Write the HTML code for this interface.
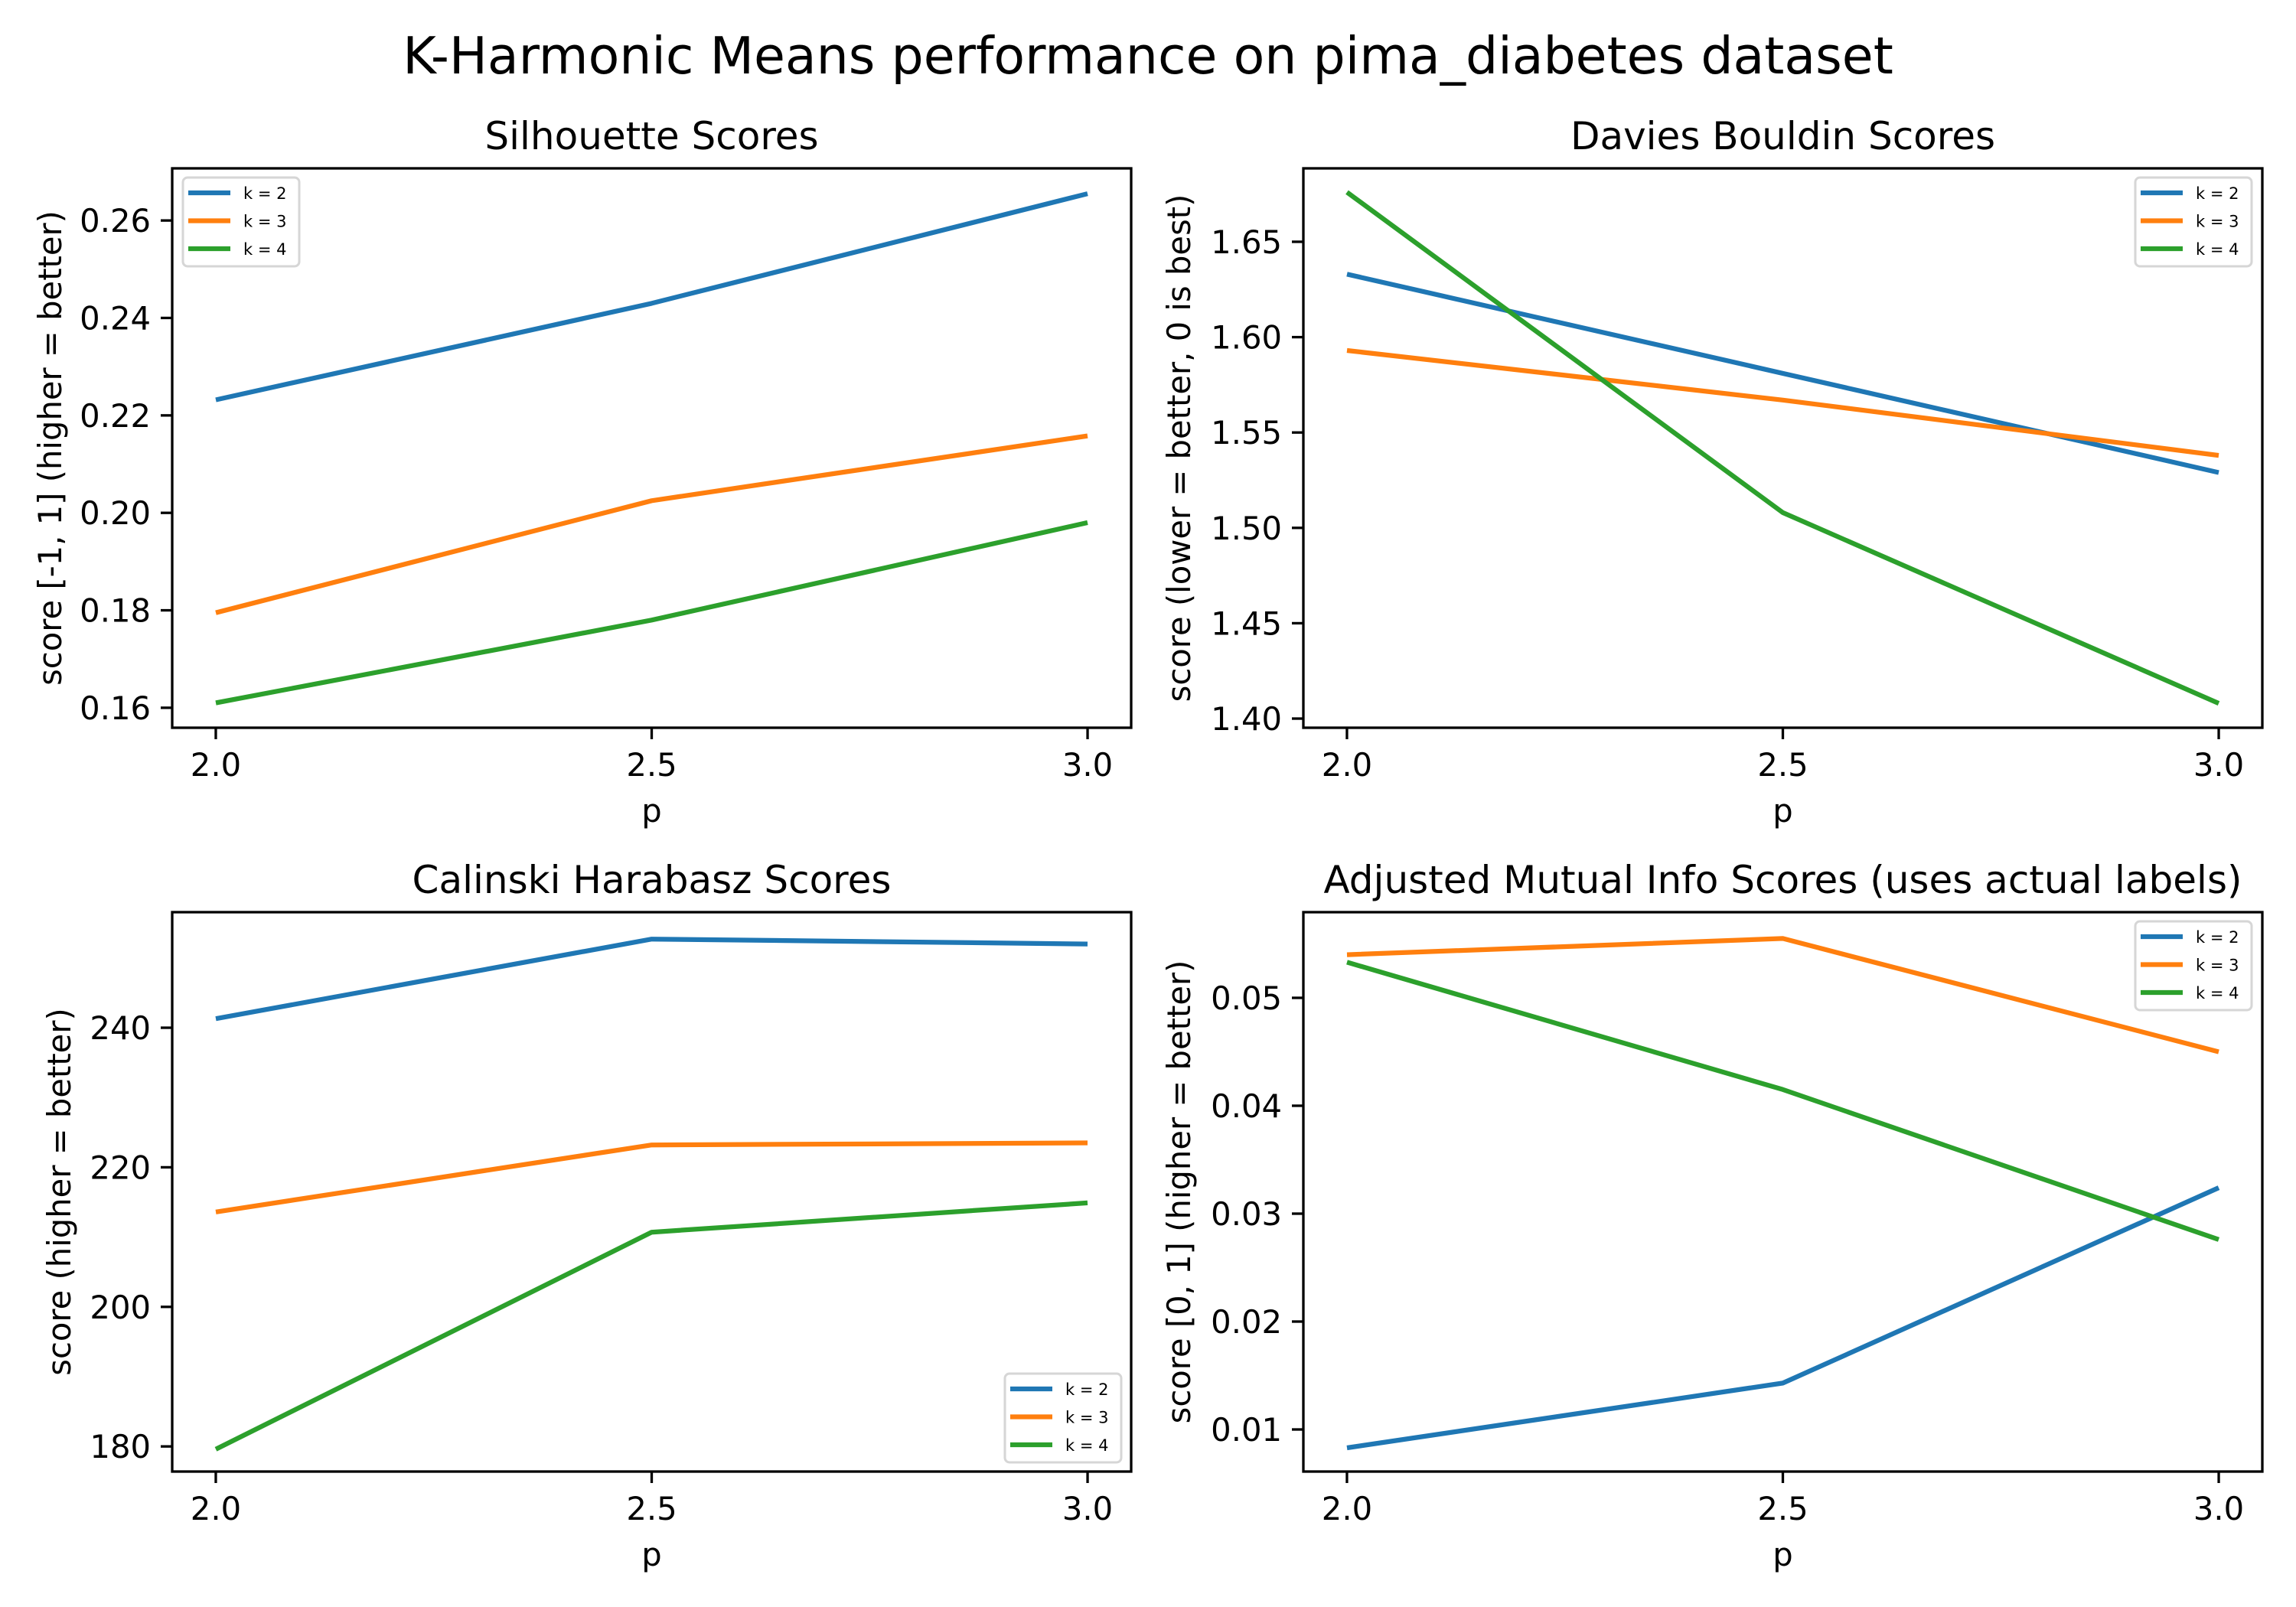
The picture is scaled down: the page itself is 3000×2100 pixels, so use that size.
<!DOCTYPE html>
<html><head><meta charset="utf-8"><style>
html,body{margin:0;padding:0;background:#fff;}
svg{display:block;font-family:"DejaVu Sans","Liberation Sans",sans-serif;}
</style></head><body>
<svg id="fig" width="3000" height="2100" viewBox="0 0 3000 2100" xmlns="http://www.w3.org/2000/svg">
<rect x="0" y="0" width="3000" height="2100" fill="#fff"/>
<text x="1500" y="96" font-size="66.5" text-anchor="middle" fill="#000">K-Harmonic Means performance on pima_diabetes dataset</text>
</svg>
<script>
const pValues = [2.0, 2.5, 3.0];
const xTicks = [2.0, 2.5, 3.0];
const xTickLabels = ["2.0", "2.5", "3.0"];
const seriesNames = ["k = 2", "k = 3", "k = 4"];
const colors = ["#1f77b4", "#ff7f0e", "#2ca02c"];

const silK2 = [0.2232, 0.2430, 0.2655];
const silK3 = [0.1795, 0.2025, 0.2158];
const silK4 = [0.1610, 0.1780, 0.1980];
const silTicks = [0.16, 0.18, 0.20, 0.22, 0.24, 0.26];
const silTickLabels = ["0.16", "0.18", "0.20", "0.22", "0.24", "0.26"];
const silRange = [0.1559, 0.2707];

const dbK2 = [1.633, 1.581, 1.529];
const dbK3 = [1.593, 1.567, 1.538];
const dbK4 = [1.676, 1.508, 1.408];
const dbTicks = [1.40, 1.45, 1.50, 1.55, 1.60, 1.65];
const dbTickLabels = ["1.40", "1.45", "1.50", "1.55", "1.60", "1.65"];
const dbRange = [1.3952, 1.6885];

const chK2 = [241.3, 252.7, 252.0];
const chK3 = [213.6, 223.2, 223.5];
const chK4 = [179.6, 210.7, 214.9];
const chTicks = [180, 200, 220, 240];
const chTickLabels = ["180", "200", "220", "240"];
const chRange = [176.4, 256.56];

const amiK2 = [0.0083, 0.0143, 0.0324];
const amiK3 = [0.0540, 0.0555, 0.0450];
const amiK4 = [0.0533, 0.0415, 0.0276];
const amiTicks = [0.01, 0.02, 0.03, 0.04, 0.05];
const amiTickLabels = ["0.01", "0.02", "0.03", "0.04", "0.05"];
const amiRange = [0.0061, 0.05794];

const NS = "http://www.w3.org/2000/svg";
const fig = document.getElementById('fig');
function mk(tag, attrs, parent, text) {
  const e = document.createElementNS(NS, tag);
  for (const k in attrs) e.setAttribute(k, attrs[k]);
  if (text !== undefined) e.textContent = text;
  (parent || fig).appendChild(e);
  return e;
}

function panel(cfg) {
  const L = cfg.left, T = cfg.top, W = 1253, H = 731;
  const g = mk('g', {});
  
  
  const xs = v => L + W * (v - 1.95) / 1.1;
  const ys = v => T + H - H * (v - cfg.range[0]) / (cfg.range[1] - cfg.range[0]);
  const title = mk('text', {x: L + W / 2, y: T - 25, 'font-size': 50, 'text-anchor': 'middle', fill: '#000'}, g, cfg.title);
  
  
  cfg.series.forEach((vals, i) => {
    const pts = vals.map((v, j) => xs(pValues[j]).toFixed(1) + ',' + ys(v).toFixed(1)).join(' ');
    const pl = mk('polyline', {points: pts, fill: 'none', stroke: colors[i], 'stroke-width': 6.25, 'stroke-linejoin': 'round'}, g);
    
    
  });
  const fr = mk('rect', {x: L, y: T, width: W, height: H, fill: 'none', stroke: '#000', 'stroke-width': 3.3}, g);
  
  
  xTicks.forEach((v, i) => {
    const x = xs(v);
    mk('line', {x1: x, x2: x, y1: T + H, y2: T + H + 15, stroke: '#000', 'stroke-width': 3.3}, g);
    const t = mk('text', {x: x, y: T + H + 63, 'font-size': 41.7, 'text-anchor': 'middle', fill: '#000'}, g, xTickLabels[i]);
    
    
  });
  const xl = mk('text', {x: L + W / 2, y: T + H + 123, 'font-size': 41.7, 'text-anchor': 'middle', fill: '#000'}, g, 'p');
  
  
  cfg.ticks.forEach((v, i) => {
    const y = ys(v);
    mk('line', {x1: L - 15, x2: L, y1: y, y2: y, stroke: '#000', 'stroke-width': 3.3}, g);
    const t = mk('text', {x: L - 28, y: y + 15, 'font-size': 41.7, 'text-anchor': 'end', fill: '#000'}, g, cfg.tickLabels[i]);
    
    
  });
  const yl = mk('text', {x: 0, y: 0, 'font-size': 41.7, 'text-anchor': 'middle', fill: '#000',
    transform: 'translate(' + (cfg.ylabelX) + ',' + (T + H / 2) + ') rotate(-90)'}, g, cfg.ylabel);
  
  
  const lx = cfg.legend[0], ly = cfg.legend[1];
  const lg = mk('g', {}, g);
  
  
  mk('rect', {x: lx, y: ly, width: 152, height: 116, rx: 6, fill: '#fff', 'fill-opacity': 0.8, stroke: '#d6d6d6', 'stroke-width': 3}, lg);
  seriesNames.forEach((n, i) => {
    const yy = ly + 20 + i * 36.5;
    const e = mk('g', {}, lg);
    
    
    mk('line', {x1: lx + 7, x2: lx + 62, y1: yy, y2: yy, stroke: colors[i], 'stroke-width': 6.25}, e);
    mk('text', {x: lx + 79, y: yy + 8, 'font-size': 21, fill: '#000'}, e, n);
  });
}

panel({name: 'silhouette-panel', left: 225, top: 220, title: 'Silhouette Scores', series: [silK2, silK3, silK4],
  ticks: silTicks, tickLabels: silTickLabels, range: silRange, ylabel: 'score [-1, 1] (higher = better)', ylabelX: 80, legend: [239, 232]});
panel({name: 'davies-bouldin-panel', left: 1703, top: 220, title: 'Davies Bouldin Scores', series: [dbK2, dbK3, dbK4],
  ticks: dbTicks, tickLabels: dbTickLabels, range: dbRange, ylabel: 'score (lower = better, 0 is best)', ylabelX: 1555, legend: [2790, 232]});
panel({name: 'calinski-harabasz-panel', left: 225, top: 1192, title: 'Calinski Harabasz Scores', series: [chK2, chK3, chK4],
  ticks: chTicks, tickLabels: chTickLabels, range: chRange, ylabel: 'score (higher = better)', ylabelX: 92, legend: [1313, 1795]});
panel({name: 'adjusted-mutual-info-panel', left: 1703, top: 1192, title: 'Adjusted Mutual Info Scores (uses actual labels)', series: [amiK2, amiK3, amiK4],
  ticks: amiTicks, tickLabels: amiTickLabels, range: amiRange, ylabel: 'score [0, 1] (higher = better)', ylabelX: 1555, legend: [2790, 1204]});
</script>
</body></html>
